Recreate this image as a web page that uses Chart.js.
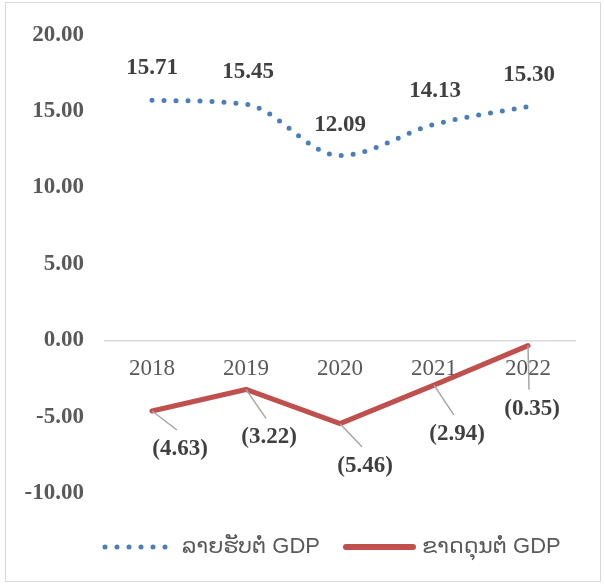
<!DOCTYPE html>
<html lang="lo">
<head>
    <meta charset="UTF-8">
    <title>ລາຍຮັບ ແລະ ຂາດດຸນຕໍ່ GDP</title>
    <script src="https://cdn.jsdelivr.net/npm/chart.js"></script>
    <style>
        body {
            margin: 0;
            background-color: #ffffff;
        }
        .frame {
            position: relative;
            width: 605px;
            height: 584px;
        }
        .frame canvas {
            position: absolute;
            left: 0;
            top: 0;
        }
        .border {
            position: absolute;
            left: 5px;
            top: 2px;
            width: 594px;
            height: 578px;
            border: 1.5px solid #d9d9d9;
            pointer-events: none;
        }
    </style>
</head>
<body>
    <div class="frame">
        <canvas id="gdpChart" width="605" height="584"></canvas>
        <div class="border"></div>
    </div>

    <script>
        // data
        const years = ['2018', '2019', '2020', '2021', '2022'];
        const revenue = [15.71, 15.45, 12.09, 14.13, 15.30];
        const deficit = [-4.63, -3.22, -5.46, -2.94, -0.35];
        const seriesNames = ['ລາຍຮັບຕໍ່ GDP', 'ຂາດດຸນຕໍ່ GDP'];
        const yTicks = [-10, -5, 0, 5, 10, 15, 20];

        // where each data label sits relative to its point (px)
        const revenueLabelOffset = [[0, -32], [2, -32], [0, -31], [1, -33], [1, -32]];
        const deficitLabelOffset = [[28, 38], [23, 48], [25, 42], [23, 49], [4, 63]];

        const blue = '#4A7EBB';
        const red = '#C0504D';
        const serif = '"Liberation Serif", "Times New Roman", serif';
        const sans = '"Liberation Sans", Arial, "DejaVu Sans", sans-serif';

        // value labels + leader lines + legend
        const labelsPlugin = {
            id: 'labels',
            afterDatasetsDraw(chart) {
                const ctx = chart.ctx;
                ctx.save();
                ctx.font = 'bold 23px ' + serif;
                ctx.fillStyle = '#404040';
                ctx.textAlign = 'center';
                ctx.textBaseline = 'middle';

                chart.getDatasetMeta(0).data.forEach((pt, i) => {
                    const o = revenueLabelOffset[i];
                    ctx.fillText(revenue[i].toFixed(2), pt.x + o[0], pt.y + o[1]);
                });

                chart.getDatasetMeta(1).data.forEach((pt, i) => {
                    const o = deficitLabelOffset[i];
                    const lx = pt.x + o[0];
                    const ly = pt.y + o[1];
                    ctx.strokeStyle = '#a6a6a6';
                    ctx.lineWidth = 1.5;
                    ctx.beginPath();
                    ctx.moveTo(pt.x, pt.y);
                    ctx.lineTo(lx - 3, ly - 19);
                    ctx.stroke();
                    ctx.fillText('(' + Math.abs(deficit[i]).toFixed(2) + ')', lx, ly);
                });

                // legend
                const ly = 547;
                ctx.lineCap = 'round';
                ctx.strokeStyle = blue;
                ctx.lineWidth = 5;
                ctx.setLineDash([0, 12]);
                ctx.beginPath();
                ctx.moveTo(105, ly);
                ctx.lineTo(168, ly);
                ctx.stroke();
                ctx.setLineDash([]);
                ctx.strokeStyle = red;
                ctx.lineWidth = 6;
                ctx.beginPath();
                ctx.moveTo(346, ly);
                ctx.lineTo(413, ly);
                ctx.stroke();

                ctx.font = '22px ' + sans;
                ctx.fillStyle = '#595959';
                ctx.textAlign = 'left';
                ctx.fillText(seriesNames[0], 182, ly);
                ctx.fillText(seriesNames[1], 422, ly);
                ctx.restore();
            }
        };

        new Chart(document.getElementById('gdpChart'), {
            type: 'line',
            data: {
                labels: years,
                datasets: [{
                    label: seriesNames[0],
                    data: revenue,
                    borderColor: blue,
                    borderWidth: 5,
                    borderDash: [0, 12],
                    borderCapStyle: 'round',
                    cubicInterpolationMode: 'monotone',
                    pointRadius: 0,
                    fill: false
                }, {
                    label: seriesNames[1],
                    data: deficit,
                    borderColor: red,
                    borderWidth: 5,
                    borderCapStyle: 'round',
                    borderJoinStyle: 'round',
                    tension: 0,
                    pointRadius: 0,
                    fill: false
                }]
            },
            options: {
                responsive: false,
                animation: false,
                devicePixelRatio: 1,
                layout: {
                    padding: { left: 0, right: 30, top: 32, bottom: 91 }
                },
                plugins: {
                    legend: { display: false },
                    tooltip: { enabled: false }
                },
                scales: {
                    x: {
                        position: { y: 0 },
                        offset: true,
                        grid: { display: false, drawTicks: false },
                        border: { display: true, color: '#d9d9d9', width: 1.5 },
                        ticks: {
                            padding: 15,
                            color: '#595959',
                            font: { family: serif, size: 23 }
                        }
                    },
                    y: {
                        min: yTicks[0],
                        max: yTicks[yTicks.length - 1],
                        afterFit(scale) { scale.width = 105; },
                        afterBuildTicks(scale) {
                            scale.ticks = yTicks.map(v => ({ value: v }));
                        },
                        grid: { display: false, drawTicks: false },
                        border: { display: false },
                        ticks: {
                            padding: 21,
                            color: '#595959',
                            font: { family: serif, size: 23, weight: 'bold' },
                            callback: v => v.toFixed(2)
                        }
                    }
                }
            },
            plugins: [labelsPlugin]
        });
    </script>
</body>
</html>
